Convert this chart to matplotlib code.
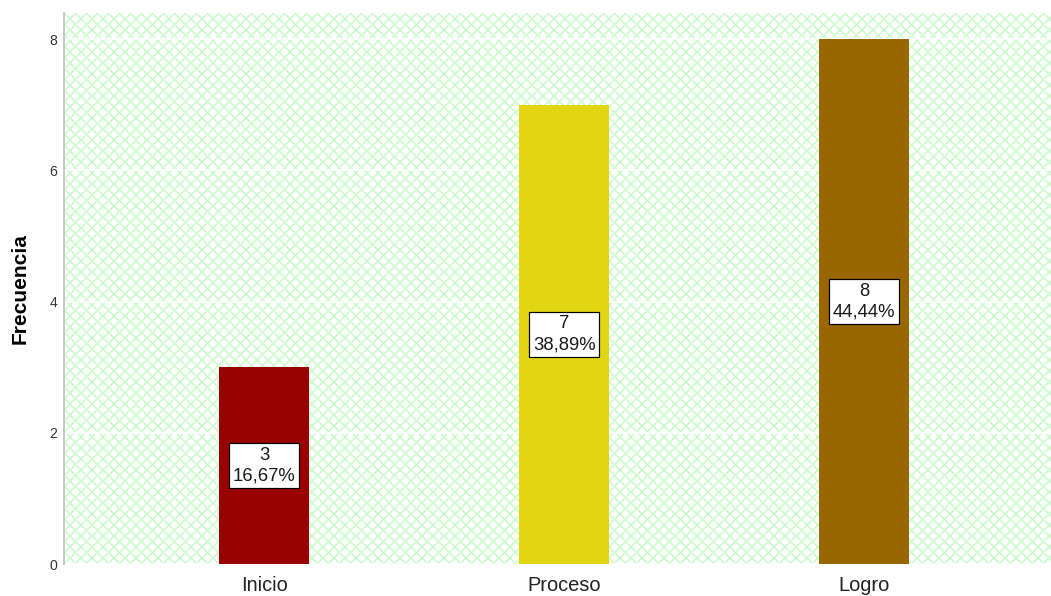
import matplotlib
matplotlib.use("Agg")
import numpy as np
import matplotlib.pyplot as plt

# ---- data ----
categories = ["Inicio", "Proceso", "Logro"]
counts = [3, 7, 8]
bar_colors = ["#990000", "#E1D514", "#996600"]
y_ticks = [0, 2, 4, 6, 8]
y_label = "Frecuencia"

DPI = 100
W, H = 1051, 596


def px(p):
    """pixels -> points at this dpi"""
    return p * 72.0 / DPI


plt.rcParams["font.family"] = ["Liberation Sans", "DejaVu Sans"]

fig = plt.figure(figsize=(W / DPI, H / DPI), dpi=DPI)
fig.patch.set_facecolor("white")

left, right, top, bottom = 64, 1051, 13, 564
ax = fig.add_axes([left / W, (H - bottom) / H, (right - left) / W, (bottom - top) / H])
ax.set_facecolor("white")

# cross-hatched background texture (pixel pattern, period 11 px)
aw, ah = right - left, bottom - top
jj, ii = np.meshgrid(np.arange(aw), np.arange(ah))
period = 11
d1 = (ii + jj) % period
d2 = (ii - jj) % period
tex = np.ones((ah, aw, 3))
light = np.array([222, 255, 222]) / 255.0
strong = np.array([196, 250, 196]) / 255.0
m_light = (d1 == 1) | (d2 == 1) | (d1 == period - 1) | (d2 == period - 1)
m_strong = (d1 == 0) | (d2 == 0)
tex[m_light] = light
tex[m_strong] = strong
ax.imshow(tex, extent=[0, 1, 0, 1], transform=ax.transAxes, aspect="auto",
          interpolation="nearest", zorder=0.1)

x = list(range(len(categories)))
ax.bar(x, counts, width=0.3, color=bar_colors, zorder=2, linewidth=0)

total = sum(counts)
for xi, c in zip(x, counts):
    pct = f"{c / total * 100:.2f}".replace(".", ",")
    ax.text(xi, c / 2, f"{c}\n{pct}%", ha="center", va="center",
            fontsize=px(18.5), color="#1a1a1a", linespacing=1.3, zorder=3,
            bbox=dict(boxstyle="square,pad=0.2", facecolor="white",
                      edgecolor="black", linewidth=px(1.2)))

ax.set_xlim(-0.667, 2.623)
ax.set_ylim(0, 8.4)
ax.set_yticks(y_ticks)
ax.set_yticklabels([str(t) for t in y_ticks], fontsize=px(14), color="#333333")
ax.set_xticks(x)
ax.set_xticklabels(categories, fontsize=px(20), color="#222222")
ax.tick_params(axis="both", length=0)
ax.tick_params(axis="y", pad=px(7))
ax.tick_params(axis="x", pad=px(12))

ax.set_axisbelow(True)
ax.yaxis.grid(True, color="white", linewidth=px(1.6), zorder=0.5)
ax.xaxis.grid(False)

for s in ["top", "right", "bottom"]:
    ax.spines[s].set_visible(False)
ax.spines["left"].set_color("#c8c8c8")
ax.spines["left"].set_linewidth(px(2))

ax.set_ylabel(y_label, fontsize=px(21), fontweight="bold", color="black")
ax.yaxis.set_label_coords(-34 / (right - left), 0.5)

fig.savefig("out.png", dpi=DPI, facecolor="white")
